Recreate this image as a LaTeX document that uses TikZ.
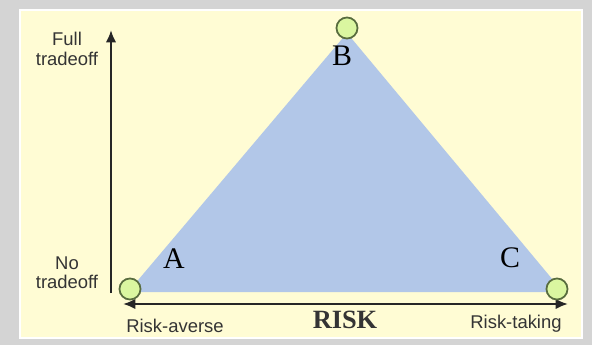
\documentclass[tikz,border=0pt]{standalone}
\usepackage{fontspec}
\setmainfont{Liberation Serif}
\newfontfamily\labelfont{Liberation Sans}
\usetikzlibrary{positioning,calc}
\usetikzlibrary{arrows.meta}
\definecolor{PanelYellow}{RGB}{255,252,212}
\definecolor{FrameGray}{RGB}{212,212,212}
\definecolor{TriBlue}{RGB}{178,199,232}
\definecolor{DotGreen}{RGB}{218,246,160}
\definecolor{DotEdge}{RGB}{88,108,62}
\definecolor{TextGray}{RGB}{52,52,52}
\tikzset{
	dot/.style={circle,draw=DotEdge,fill=DotGreen,line width=1pt,minimum size=12pt,inner sep=0pt},
	corner/.style={font=\fontsize{17}{17}\selectfont,text=black},
	axislabel/.style={font=\labelfont\fontsize{10.5}{11}\selectfont,text=TextGray,align=center},
	axis/.style={draw=black!85,line width=1.3pt},
}

\begin{document}
\begin{tikzpicture}[x=0.02cm,y=-0.02cm]
			\useasboundingbox (0,0) rectangle (592,345);
			\fill[FrameGray] (0,0) rectangle (592,345);
			\fill[white] (19,9) rectangle (583,339);
			\fill[PanelYellow] (21,11) rectangle (581,337);
			% triangle
			\coordinate (ta) at (128,292);
			\coordinate (tb) at (347,33);
			\coordinate (tc) at (563,292);
			\fill[TriBlue] (ta)--(tb)--(tc)--cycle;
			% axes
			\coordinate (origin) at (111,293);
			\coordinate (top) at (111,30);
			\coordinate (left) at (123,304);
			\coordinate (right) at (568,304);
			\draw[axis,-{Latex[length=7pt,width=6pt]}] (origin)--(top);
			\draw[axis,{Latex[length=7pt,width=6pt]}-{Latex[length=7pt,width=6pt]}] (left)--(right);
			% corner points
			\node[dot] (a) at (130,289) {};
			\node[dot] (b) at (347,28) {};
			\node[dot] (c) at (557,289) {};
			\node[corner] (la) at (174,259) {A};
			\node[corner] (lb) at (342,56) {B};
			\node[corner] (lc) at (510,258) {C};
			% labels
			\node[axislabel] (full) at (67,49) {Full\\tradeoff};
			\node[axislabel] (none) at (67,273) {No\\tradeoff};
			\node[axislabel] (averse) at (175,326) {Risk-averse};
			\node[axislabel] (taking) at (516,324) {Risk-taking};
			\node[font=\bfseries\fontsize{15}{15}\selectfont,text=TextGray] (risk) at (345,320) {RISK};
		\end{tikzpicture}
\end{document}
